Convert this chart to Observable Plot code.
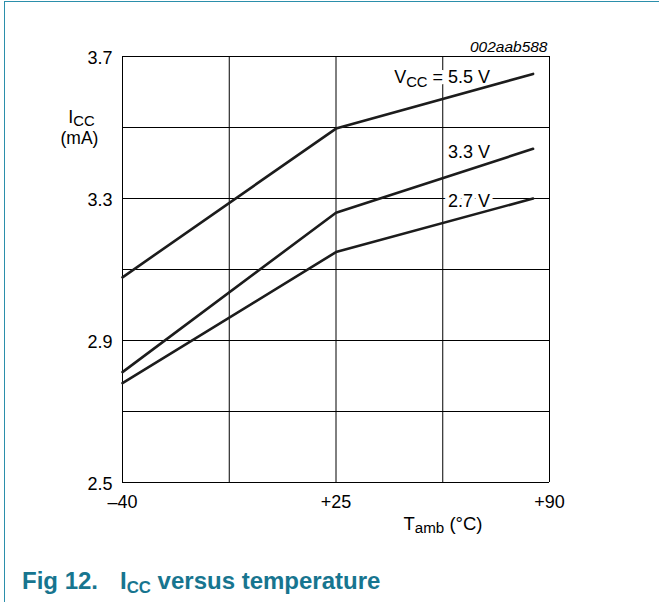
<!DOCTYPE html>
<html><head><meta charset="utf-8">
<script src="https://cdn.jsdelivr.net/npm/d3@7"></script>
<script src="https://cdn.jsdelivr.net/npm/@observablehq/plot@0.6"></script>
<style>
body{margin:0;background:#fff;}
#wrap{position:relative;width:659px;height:602px;overflow:hidden;font-family:"Liberation Sans",Arial,sans-serif;}
#frame{position:absolute;left:4px;top:1px;right:-10px;bottom:-10px;border-top:1.5px solid #2b8fab;border-left:1.5px solid #2b8fab;}
#chart{position:absolute;left:0;top:0;}
#caption{position:absolute;left:22px;top:569px;font-weight:bold;font-size:24px;line-height:24px;color:#17758f;white-space:nowrap;}
</style></head>
<body>
<div id="wrap"><div id="frame"></div><div id="chart"></div>
<div id="caption"><span style="display:inline-block;width:98px">Fig 12.</span>I<span style="font-size:0.7em;position:relative;top:4px">CC</span> versus temperature</div>
</div>
<script>
// Data
const temps = [-40, 25, 85];
const icc55 = [3.078, 3.497, 3.651];
const icc33 = [2.811, 3.26, 3.44];
const icc27 = [2.78, 3.149, 3.30];
const seriesNames = ["VCC = 5.5 V", "3.3 V", "2.7 V"];
const xTicks = [-40, 25, 90];
const xTickLabels = ["–40", "+25", "+90"];
const yTicks = [2.5, 2.9, 3.3, 3.7];
const xGrid = [-40, -7.5, 25, 57.5, 90];
const yGrid = [2.5, 2.7, 2.9, 3.1, 3.3, 3.5, 3.7];
const figId = "002aab588";
const yLabel = "ICC";
const yUnit = "(mA)";
const xLabel = "Tamb (°C)";

const seriesValues = [icc55, icc33, icc27];
const rows = seriesNames.flatMap((s, i) => temps.map((t, j) => ({series: s, t, icc: seriesValues[i][j]})));
const ends = rows.filter(d => d.t === temps[temps.length - 1]);

const font = "'Liberation Sans', Arial, sans-serif";
const plot = Plot.plot({
  width: 659, height: 540,
  marginLeft: 122, marginRight: 110, marginTop: 56, marginBottom: 58,
  style: {fontFamily: font, fontSize: "18px", color: "#000", background: "transparent", overflow: "visible"},
  x: {domain: [-40, 90]},
  y: {domain: [2.5, 3.7]},
  marks: [
    Plot.ruleY(yGrid, {stroke: "#000", strokeWidth: 1}),
    Plot.ruleX(xGrid, {stroke: "#000", strokeWidth: 1}),
    Plot.axisX({ticks: xTicks, tickSize: 0, tickPadding: 13, fontSize: 18, tickFormat: d => xTickLabels[xTicks.indexOf(d)], label: null}),
    Plot.axisY({ticks: yTicks, tickSize: 0, tickPadding: 10, fontSize: 18, dy: 2, tickFormat: d => d.toFixed(1), label: null}),
    Plot.text(ends, {x: "t", y: "icc", text: "series", textAnchor: "end", dx: -43, dy: 3, fontSize: 18, fill: "none", stroke: "white", strokeWidth: 8}),
    Plot.line(rows, {x: "t", y: "icc", z: "series", stroke: "#1c1c1c", strokeWidth: 2.6}),
    Plot.text(ends, {x: "t", y: "icc", text: "series", textAnchor: "end", dx: -43, dy: 3, fontSize: 18, fill: "#000"}),
    Plot.text([figId], {text: d => d, frameAnchor: "top-right", lineAnchor: "middle", textAnchor: "end", dx: -2, dy: -9, fontSize: 15.5, fontStyle: "italic", fill: "#000"}),
    Plot.text([yLabel], {text: d => d, frameAnchor: "top-left", lineAnchor: "middle", textAnchor: "middle", dx: -41, dy: 61, fontSize: 18, fill: "#000"}),
    Plot.text([yUnit], {text: d => d, frameAnchor: "top-left", lineAnchor: "middle", textAnchor: "middle", dx: -43, dy: 82, fontSize: 17.5, fill: "#000"}),
    Plot.text([xLabel], {text: d => d, frameAnchor: "bottom-right", lineAnchor: "middle", textAnchor: "end", dx: -67, dy: 41.5, fontSize: 18.5, fill: "#000"})
  ]
});

const subs = {"VCC = 5.5 V": ["V", "CC", " = 5.5 V", 4], "ICC": ["I", "CC", "", 3], "Tamb (°C)": ["T", "amb", " (°C)", 3]};
d3.select(plot).selectAll("text").each(function() {
  const t = this.textContent;
  if (subs[t]) {
    const [a, b, c, s] = subs[t];
    const sel = d3.select(this);
    sel.text(null);
    sel.append("tspan").text(a);
    sel.append("tspan").attr("font-size", "0.82em").attr("dy", s).text(b);
    if (c) sel.append("tspan").attr("dy", -s).text(c);
  }
});
document.getElementById("chart").appendChild(plot);
</script>
</body></html>
